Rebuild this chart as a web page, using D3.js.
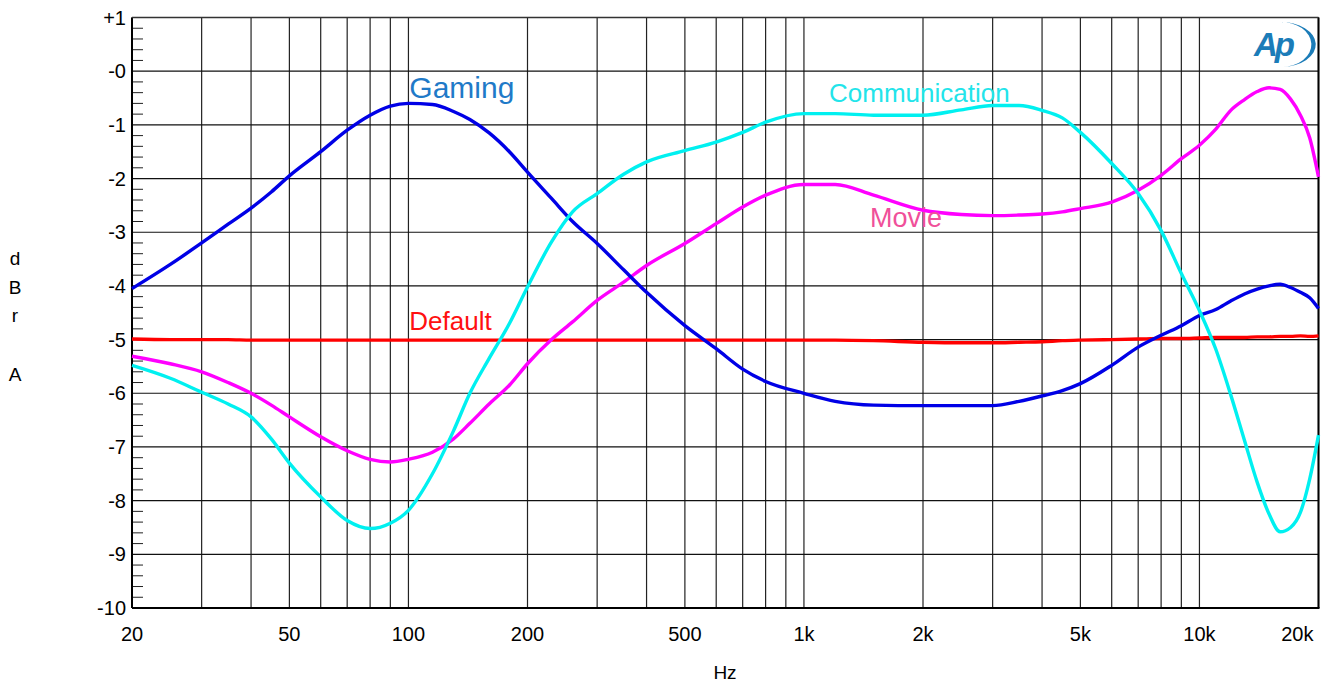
<!DOCTYPE html>
<html>
<head>
<meta charset="utf-8">
<script src="https://cdn.jsdelivr.net/npm/d3@7"></script>
<style>
  body { margin: 0; background: #fff; }
  svg { display: block; font-family: "Liberation Sans", Arial, sans-serif; }
</style>
</head>
<body>
<script>
// chart size and plot box
const width = 1333;
const height = 683;
const plot = { left: 132, right: 1318.5, top: 17.5, bottom: 608 };

const freqs = [20, 25, 30, 35, 40, 45, 50, 60, 70, 80, 90, 100, 115, 130, 143, 160, 180, 200, 230, 260,
  300, 350, 400, 500, 600, 700, 800, 1000, 1200, 1500, 2000, 2500, 3000, 3500, 4000, 4500, 5000, 6000,
  7000, 8000, 9000, 10000, 11000, 12000, 13000, 14000, 15000, 16000, 17000, 18000, 19000, 20000];

const gaming = [-4.05, -3.6, -3.2, -2.85, -2.55, -2.25, -1.95, -1.5, -1.1, -0.82, -0.65, -0.6, -0.62, -0.75,
  -0.9, -1.15, -1.5, -1.88, -2.37, -2.8, -3.21, -3.7, -4.12, -4.74, -5.17, -5.55, -5.78, -6.0, -6.15, -6.22,
  -6.23, -6.23, -6.23, -6.15, -6.05, -5.95, -5.82, -5.48, -5.14, -4.92, -4.74, -4.55, -4.44, -4.28, -4.15,
  -4.06, -4.0, -3.97, -4.03, -4.12, -4.22, -4.42];

const communication = [-5.48, -5.72, -5.98, -6.2, -6.44, -6.85, -7.3, -7.93, -8.37, -8.52, -8.42, -8.18,
  -7.5, -6.7, -6.0, -5.35, -4.7, -4.02, -3.18, -2.62, -2.28, -1.92, -1.69, -1.48, -1.32, -1.14, -0.95, -0.79,
  -0.79, -0.82, -0.82, -0.72, -0.64, -0.64, -0.73, -0.87, -1.14, -1.72, -2.28, -2.97, -3.77, -4.46, -5.18,
  -6.03, -6.88, -7.66, -8.25, -8.58, -8.5, -8.22, -7.6, -6.78];

const movie = [-5.31, -5.45, -5.6, -5.8, -6.0, -6.22, -6.44, -6.81, -7.07, -7.23, -7.28, -7.23, -7.1, -6.85,
  -6.56, -6.2, -5.85, -5.45, -5.0, -4.67, -4.27, -3.93, -3.62, -3.21, -2.84, -2.53, -2.31, -2.11, -2.11,
  -2.31, -2.59, -2.67, -2.69, -2.68, -2.66, -2.62, -2.56, -2.44, -2.22, -1.94, -1.63, -1.38, -1.08, -0.73,
  -0.53, -0.38, -0.31, -0.34, -0.52, -0.82, -1.24, -1.97];

const defaultEq = [-4.99, -5.0, -5.0, -5.0, -5.01, -5.01, -5.01, -5.01, -5.01, -5.01, -5.01, -5.01, -5.01,
  -5.01, -5.01, -5.01, -5.01, -5.01, -5.01, -5.01, -5.01, -5.01, -5.01, -5.01, -5.01, -5.01, -5.01, -5.01,
  -5.01, -5.02, -5.05, -5.06, -5.06, -5.05, -5.04, -5.02, -5.01, -5.0, -4.99, -4.98, -4.98, -4.97, -4.96,
  -4.96, -4.96, -4.95, -4.95, -4.94, -4.94, -4.93, -4.94, -4.93];

const series = [
  { name: "Default", values: defaultEq, color: "#ff0000" },
  { name: "Movie", values: movie, color: "#ff00ff" },
  { name: "Gaming", values: gaming, color: "#0000e6" },
  { name: "Communication", values: communication, color: "#00f0f0" },
];

// axis ticks
const xGrid = [20, 30, 40, 50, 60, 70, 80, 90, 100, 200, 300, 400, 500, 600, 700, 800, 900,
  1000, 2000, 3000, 4000, 5000, 6000, 7000, 8000, 9000, 10000, 20000];
const xTicks = [20, 50, 100, 200, 500, 1000, 2000, 5000, 10000, 20000];
const xTickLabels = ["20", "50", "100", "200", "500", "1k", "2k", "5k", "10k", "20k"];
const yTicks = [1, 0, -1, -2, -3, -4, -5, -6, -7, -8, -9, -10];
const yTickLabels = ["+1", "-0", "-1", "-2", "-3", "-4", "-5", "-6", "-7", "-8", "-9", "-10"];

// curve labels
const labels = [
  { text: "Gaming", f: 100.5, db: -0.5, color: "#1f7ac8", size: 30 },
  { text: "Communication", f: 1157, db: -0.57, color: "#22e4ea", size: 26 },
  { text: "Movie", f: 1469, db: -2.9, color: "#f0509a", size: 27 },
  { text: "Default", f: 100.5, db: -4.83, color: "#ff1010", size: 26 },
];

const x = d3.scaleLog().domain([20, 20000]).range([plot.left, plot.right]);
const y = d3.scaleLinear().domain([1, -10]).range([plot.top, plot.bottom]);

const svg = d3.select("body").append("svg")
  .attr("width", width)
  .attr("height", height);

// grid
svg.append("g")
  .selectAll("line")
  .data(xGrid)
  .join("line")
  .attr("x1", (d) => x(d))
  .attr("x2", (d) => x(d))
  .attr("y1", plot.top)
  .attr("y2", plot.bottom)
  .attr("stroke", "#222")
  .attr("stroke-width", 1.2);

svg.append("g")
  .selectAll("line")
  .data(yTicks)
  .join("line")
  .attr("x1", plot.left)
  .attr("x2", plot.right)
  .attr("y1", (d) => y(d))
  .attr("y2", (d) => y(d))
  .attr("stroke", "#111")
  .attr("stroke-width", 1.2);

// minor ticks on left axis, every 0.2 dB
const minor = d3.range(-10, 1, 0.2).filter((d) => Math.abs(d - Math.round(d)) > 0.01);
svg.append("g")
  .selectAll("line")
  .data(minor)
  .join("line")
  .attr("x1", plot.left)
  .attr("x2", plot.left + 11)
  .attr("y1", (d) => y(d))
  .attr("y2", (d) => y(d))
  .attr("stroke", "#222")
  .attr("stroke-width", 1);

// frame
svg.append("line")
  .attr("x1", plot.left).attr("x2", plot.left)
  .attr("y1", plot.top).attr("y2", plot.bottom)
  .attr("stroke", "#000").attr("stroke-width", 2);
svg.append("line")
  .attr("x1", plot.left).attr("x2", plot.right + 1)
  .attr("y1", plot.bottom).attr("y2", plot.bottom)
  .attr("stroke", "#000").attr("stroke-width", 2);
svg.append("line")
  .attr("x1", plot.right).attr("x2", plot.right)
  .attr("y1", plot.top).attr("y2", plot.bottom)
  .attr("stroke", "#000").attr("stroke-width", 2);
svg.append("line")
  .attr("x1", plot.left).attr("x2", plot.right)
  .attr("y1", plot.top).attr("y2", plot.top)
  .attr("stroke", "#333").attr("stroke-width", 1.5);

// tick labels
svg.append("g")
  .selectAll("text")
  .data(yTicks)
  .join("text")
  .attr("x", 126)
  .attr("y", (d) => y(d) + 7)
  .attr("text-anchor", "end")
  .attr("font-size", 20)
  .text((d, i) => yTickLabels[i]);

// last label (20k) sits inside the right edge
svg.append("g")
  .selectAll("text")
  .data(xTicks)
  .join("text")
  .attr("x", (d, i) => (i === xTicks.length - 1 ? x(d) - 5 : x(d)))
  .attr("y", 641)
  .attr("text-anchor", (d, i) => (i === xTicks.length - 1 ? "end" : "middle"))
  .attr("font-size", 20)
  .text((d, i) => xTickLabels[i]);

// axis titles
svg.append("text")
  .attr("x", 725)
  .attr("y", 679)
  .attr("text-anchor", "middle")
  .attr("font-size", 19)
  .text("Hz");

const yTitle = [["d", 265], ["B", 294], ["r", 322], ["A", 381]];
svg.append("g")
  .selectAll("text")
  .data(yTitle)
  .join("text")
  .attr("x", 15)
  .attr("y", (d) => d[1])
  .attr("text-anchor", "middle")
  .attr("font-size", 19)
  .text((d) => d[0]);

// curves
const line = d3.line()
  .x((d) => x(d[0]))
  .y((d) => y(d[1]))
  .curve(d3.curveMonotoneX);

svg.append("g")
  .selectAll("path")
  .data(series)
  .join("path")
  .attr("d", (s) => line(freqs.map((f, i) => [f, s.values[i]])))
  .attr("fill", "none")
  .attr("stroke", (s) => s.color)
  .attr("stroke-width", 3.4)
  .attr("stroke-linejoin", "round");

// labels
svg.append("g")
  .selectAll("text")
  .data(labels)
  .join("text")
  .attr("x", (d) => x(d.f))
  .attr("y", (d) => y(d.db))
  .attr("fill", (d) => d.color)
  .attr("font-size", (d) => d.size)
  .text((d) => d.text);

// Ap logo
const logo = svg.append("g").attr("fill", "#1b7cb8");
logo.append("text")
  .attr("x", 1254)
  .attr("y", 56)
  .attr("font-size", 33)
  .attr("font-style", "italic")
  .attr("font-weight", "bold")
  .attr("letter-spacing", -3)
  .text("Ap");
logo.append("path")
  .attr("d", "M1280,22 A34,22 0 0 1 1282,67 A27,20 0 0 0 1280,22 Z");
</script>
</body>
</html>
